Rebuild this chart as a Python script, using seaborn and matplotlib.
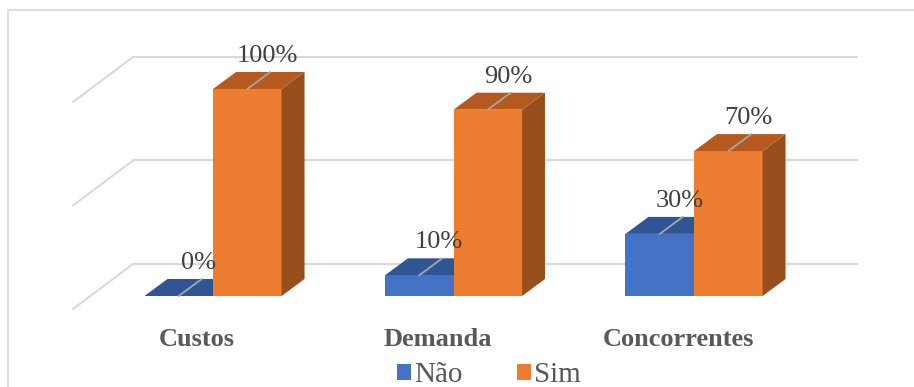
import numpy as np
import pandas as pd
import seaborn as sns
import matplotlib
matplotlib.use("Agg")
import matplotlib.pyplot as plt
from matplotlib.patches import Polygon, Patch
from matplotlib.lines import Line2D
from matplotlib.transforms import IdentityTransform

categories = ["Custos", "Demanda", "Concorrentes"]
series = ["Não", "Sim"]
nao = [0, 10, 30]
sim = [100, 90, 70]
grid_values = [0, 50, 100]

W, H, DPI = 914, 387, 100
sns.set_theme(style="white")
plt.rcParams['font.family'] = ['Liberation Serif', 'DejaVu Serif']

fig = plt.figure(figsize=(W / DPI, H / DPI), dpi=DPI)
ax = fig.add_axes([0, 0, 1, 1])
ax.set_axis_off()

df = pd.DataFrame({
    "cat": categories * 2,
    "val": nao + sim,
    "serie": [series[0]] * len(categories) + [series[1]] * len(categories),
})
front = ["#4472C4", "#ED7D31"]
topc = ["#2F5597", "#B55A1F"]
sidec = ["#284A85", "#984E1D"]

sns.barplot(data=df, x="cat", y="val", hue="serie", order=categories,
            hue_order=series, palette=front, width=0.57, gap=0, ax=ax,
            legend=False, saturation=1, errorbar=None, zorder=1,
            linewidth=0, edgecolor="none")

# pixel mapping: category 0 centre at px 213, spacing 240.5 px; zero at py 296, 2.07 px / unit
ax.set_xlim((0 - 213) / 240.5, (W - 213) / 240.5)
ax.set_ylim((296 - H) / 2.07, (296 - 0) / 2.07)

ident = IdentityTransform()
DX, DY = 23, 17
to_disp = ax.transData.transform

# back wall gridlines
gcol = "#D9D9D9"
x_left = (133 - 213) / 240.5
x_right = (857 - 213) / 240.5
for v in grid_values:
    px, py = to_disp((x_left, v))
    pr, _ = to_disp((x_right, v))
    ax.add_line(Line2D([px, pr], [py + 32, py + 32], color=gcol, lw=1.5,
                       transform=ident, zorder=0))
    ax.add_line(Line2D([px, px - 60], [py + 32, py - 13], color=gcol, lw=1.5,
                       transform=ident, zorder=0))

# 3D faces, leader lines and labels
for hi, cont in enumerate(ax.containers):
    for bar in cont:
        x0, y0 = bar.get_x(), bar.get_y()
        w, h = bar.get_width(), bar.get_height()
        br = to_disp((x0 + w, y0))
        tl = to_disp((x0, y0 + h))
        tr = to_disp((x0 + w, y0 + h))
        z = 0.5 if hi == 0 else 1.5
        top_poly = np.array([tl, tr, tr + (DX, DY), tl + (DX, DY)])
        side_poly = np.array([br, tr, tr + (DX, DY), br + (DX, DY)])
        ax.add_patch(Polygon(side_poly, closed=True, facecolor=sidec[hi],
                             edgecolor="none", transform=ident, zorder=z))
        ax.add_patch(Polygon(top_poly, closed=True, facecolor=topc[hi],
                             edgecolor="none", transform=ident, zorder=z))
        cx = (tl[0] + tr[0]) / 2
        cy = tl[1]
        ax.add_line(Line2D([cx, cx + DX], [cy, cy + DY], color="#A6A6A6", lw=1.3,
                           transform=ident, zorder=3))
        ax.text(cx + 20, cy + 27, f"{h:.0f}%", transform=ident, ha="center",
                va="baseline", fontsize=19, color="#404040", zorder=4)

# category labels
for i, c in enumerate(categories):
    px, _ = to_disp((i, 0))
    ax.text(px - 16, H - 340, c, transform=ident, ha="center", va="center",
            fontsize=19, fontweight="bold", color="#595959")

# chart border
bcol = "#D9D9D9"
ax.add_line(Line2D([8, W], [H - 10, H - 10], color=bcol, lw=1.2, transform=ident, zorder=0))
ax.add_line(Line2D([8, 8], [H - 10, 0], color=bcol, lw=1.2, transform=ident, zorder=0))

handles = [Patch(facecolor=front[i], edgecolor="none", label=series[i]) for i in range(len(series))]
leg = fig.legend(handles=handles, loc="center", bbox_to_anchor=(489 / W, 1 - 375 / H),
                 ncol=2, frameon=False, fontsize=21, handlelength=0.48, handleheight=0.48,
                 handletextpad=0.1, columnspacing=1.85, borderpad=0)
for t in leg.get_texts():
    t.set_color("#595959")

fig.savefig("out.png", dpi=DPI)
